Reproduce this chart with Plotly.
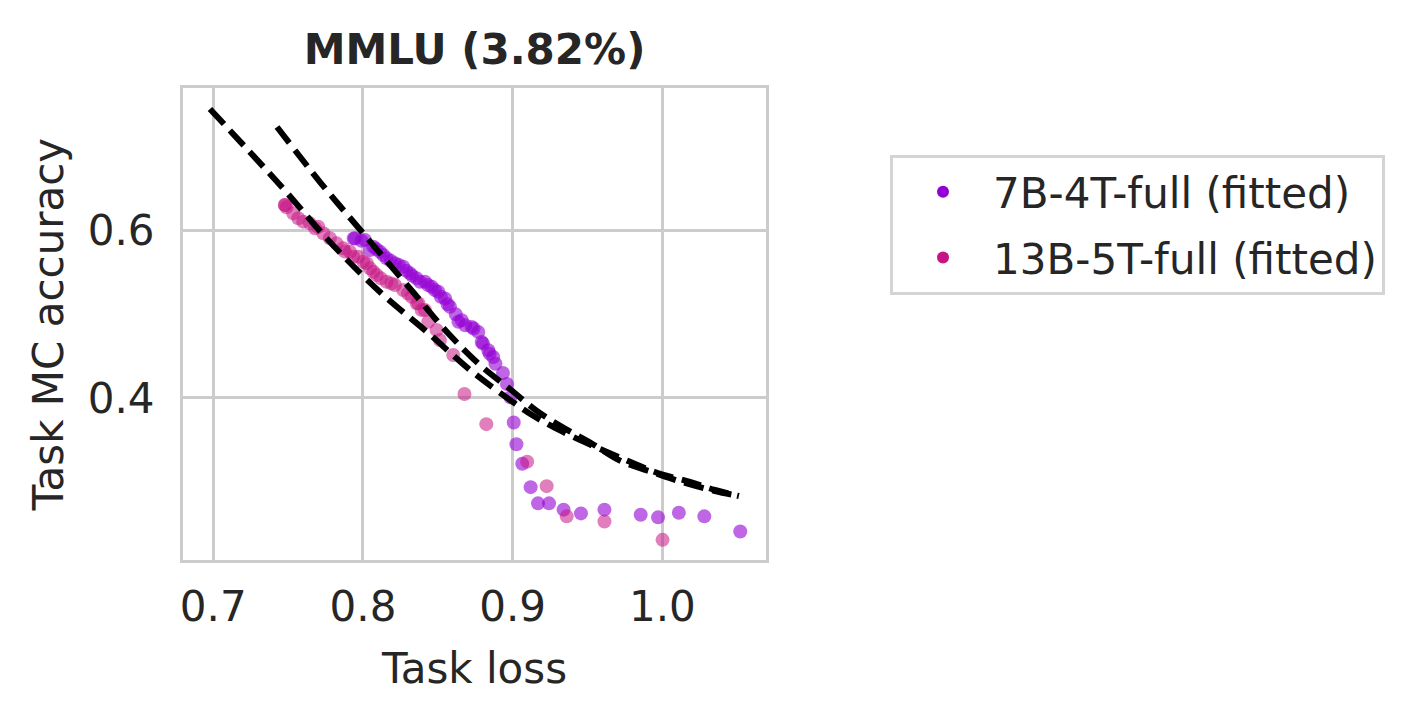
import plotly.graph_objects as go

# ---------------- data ----------------
title_text = "MMLU (3.82%)"
x_label = "Task loss"
y_label = "Task MC accuracy"
x_ticks = [0.7, 0.8, 0.9, 1.0]
y_ticks = [0.4, 0.6]

series_7b_name = "7B-4T-full (fitted)"
loss_7b = [0.7938, 0.7947, 0.7990, 0.8013, 0.8047, 0.8069, 0.8090, 0.8114, 0.8136, 0.8158,
           0.8185, 0.8214, 0.8240, 0.8269, 0.8290, 0.8314, 0.8330, 0.8359, 0.8381, 0.8414,
           0.8435, 0.8459, 0.8480, 0.8503, 0.8520, 0.8548, 0.8565, 0.8581, 0.8620, 0.8638,
           0.8659, 0.8683, 0.8726, 0.8739, 0.8770, 0.8793, 0.8802, 0.8837, 0.8846, 0.8870,
           0.8885, 0.8935, 0.8962, 0.8985, 0.9007, 0.9025, 0.9064, 0.9120, 0.9169, 0.9243,
           0.9340, 0.9456, 0.9613, 0.9855, 0.9971, 1.0110, 1.0280, 1.0520]
acc_7b = [0.5906, 0.5910, 0.5880, 0.5890, 0.5769, 0.5809, 0.5780, 0.5749, 0.5710, 0.5670,
          0.5640, 0.5610, 0.5590, 0.5570, 0.5520, 0.5490, 0.5460, 0.5430, 0.5390, 0.5390,
          0.5350, 0.5330, 0.5290, 0.5270, 0.5210, 0.5190, 0.5120, 0.5090, 0.5000, 0.4911,
          0.4930, 0.4870, 0.4850, 0.4831, 0.4790, 0.4670, 0.4650, 0.4570, 0.4530, 0.4490,
          0.4409, 0.4299, 0.4167, 0.4008, 0.3707, 0.3447, 0.3213, 0.2934, 0.2740, 0.2740,
          0.2665, 0.2620, 0.2665, 0.2604, 0.2573, 0.2628, 0.2585, 0.2404]

series_13b_name = "13B-5T-full (fitted)"
loss_13b = [0.7479, 0.7479, 0.7490, 0.7534, 0.7568, 0.7601, 0.7646, 0.7680, 0.7701, 0.7735,
            0.7779, 0.7824, 0.7868, 0.7880, 0.7913, 0.7935, 0.7969, 0.8002, 0.8025, 0.8047,
            0.8069, 0.8092, 0.8120, 0.8158, 0.8190, 0.8214, 0.8269, 0.8300, 0.8325, 0.8359,
            0.8370, 0.8392, 0.8414, 0.8436, 0.8492, 0.8514, 0.8603, 0.8678, 0.8824, 0.9097,
            0.9227, 0.9361, 0.9613, 1.0001]
acc_13b = [0.6307, 0.6307, 0.6280, 0.6208, 0.6148, 0.6108, 0.6088, 0.6030, 0.6048, 0.5969,
           0.5909, 0.5849, 0.5790, 0.5750, 0.5749, 0.5689, 0.5689, 0.5629, 0.5610, 0.5550,
           0.5510, 0.5470, 0.5430, 0.5390, 0.5370, 0.5351, 0.5291, 0.5250, 0.5211, 0.5132,
           0.5132, 0.5052, 0.5052, 0.4912, 0.4813, 0.4693, 0.4514, 0.4048, 0.3687, 0.3239,
           0.2946, 0.2585, 0.2524, 0.2304]

# fitted curves
fit_7b_loss = [0.7426, 0.7713, 0.7994, 0.8334, 0.8561, 0.8782, 0.8982, 0.9162, 0.9343,
               0.9523, 0.9723, 0.9950, 1.0151, 1.0351, 1.0511]
fit_7b_acc = [0.7240, 0.6582, 0.5984, 0.5267, 0.4789, 0.4394, 0.4107, 0.3844, 0.3641,
              0.3461, 0.3246, 0.3103, 0.2984, 0.2888, 0.2828]
fit_13b_loss = [0.6978, 0.7446, 0.7780, 0.8114, 0.8428, 0.8715, 0.8982, 0.9162, 0.9336,
                0.9523, 0.9723, 0.9950, 1.0184, 1.0351, 1.0511]
fit_13b_acc = [0.7455, 0.6546, 0.5865, 0.5267, 0.4789, 0.4335, 0.3976, 0.3761, 0.3594,
               0.3438, 0.3283, 0.3115, 0.2996, 0.2900, 0.2828]

# ---------------- style ----------------
C7 = "#9400D3"
C13 = "#C71585"
TXT = "#262626"
GRID = "#cccccc"
FONT = "DejaVu Sans"

fig = go.Figure()

fig.add_trace(go.Scatter(x=loss_7b, y=acc_7b, mode="markers", showlegend=False,
                         marker=dict(color=C7, size=14, opacity=0.6, line=dict(width=0))))
fig.add_trace(go.Scatter(x=loss_13b, y=acc_13b, mode="markers", showlegend=False,
                         marker=dict(color=C13, size=14, opacity=0.55, line=dict(width=0))))
fig.add_trace(go.Scatter(x=fit_7b_loss, y=fit_7b_acc, mode="lines", showlegend=False,
                         line=dict(color="black", width=6, dash="20px,9px", shape="spline")))
fig.add_trace(go.Scatter(x=fit_13b_loss, y=fit_13b_acc, mode="lines", showlegend=False,
                         line=dict(color="black", width=6, dash="20px,9px", shape="spline")))

# legend entries (opaque markers as in the reference)
fig.add_trace(go.Scatter(x=[None], y=[None], mode="markers", name=series_7b_name,
                         legendgroup="a", marker=dict(color=C7, size=12)))
fig.add_trace(go.Scatter(x=[None], y=[None], mode="markers", name=series_13b_name,
                         legendgroup="b", marker=dict(color=C13, size=12)))

# page body has an 8px margin; positions below are in figure coordinates
L, R, T, B = 175, 758, 80, 552
fig.update_layout(
    width=1420, height=720,
    margin=dict(l=L, r=1420 - R, t=T, b=720 - B, pad=0),
    paper_bgcolor="white", plot_bgcolor="white",
    font=dict(family=FONT, color=TXT, size=42),
    title=dict(text="<b>" + title_text + "</b>", x=(L + R) / 2 / 1420, xanchor="center",
               xref="container", y=1 - 41 / 720, yanchor="middle", yref="container",
               font=dict(size=42, color=TXT, family=FONT)),
    xaxis=dict(range=[0.6798, 1.0692], tickvals=x_ticks, tickformat=".1f",
               showgrid=True, gridcolor=GRID, gridwidth=3, zeroline=False,
               showline=True, linecolor=GRID, linewidth=3, mirror=True,
               ticks="", ticklabelstandoff=8, tickfont=dict(size=42),
               title=dict(text=x_label, font=dict(size=42), standoff=24)),
    yaxis=dict(range=[0.2063, 0.7706], tickvals=y_ticks, tickformat=".1f",
               showgrid=True, gridcolor=GRID, gridwidth=3, zeroline=False,
               showline=True, linecolor=GRID, linewidth=3, mirror=True,
               ticks="", ticklabelstandoff=17, tickfont=dict(size=42),
               title=dict(text=y_label, font=dict(size=42), standoff=12)),
    legend=dict(x=(882 - L) / (R - L), xanchor="left", y=(B - 147) / (B - T), yanchor="top",
                bgcolor="white", bordercolor="#d4d4d4", borderwidth=3,
                font=dict(size=42, color=TXT), itemwidth=90, tracegroupgap=8,
                traceorder="grouped"),
)

fig.write_html("out.html")
